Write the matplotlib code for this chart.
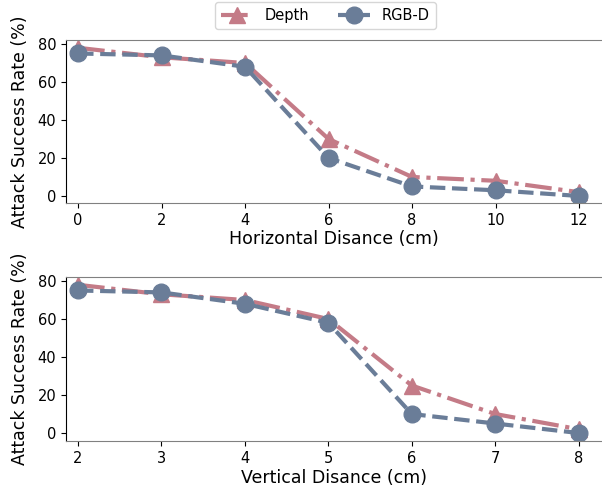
import matplotlib
matplotlib.use('Agg')
import matplotlib.pyplot as plt

# horizontal distance experiment
h_dist = [0, 2, 4, 6, 8, 10, 12]
h_depth = [78, 73, 70, 30, 10, 8, 2]
h_rgbd = [75, 74, 68, 20, 5, 3, 0]

# vertical distance experiment
v_dist = [2, 3, 4, 5, 6, 7, 8]
v_depth = [78, 73, 70, 60, 25, 10, 2]
v_rgbd = [75, 74, 68, 58, 10, 5, 0]

depth_color = '#c47b87'
rgbd_color = '#6a7d98'

fig = plt.figure(figsize=(6.02, 4.86), dpi=100)
ax1 = fig.add_axes([66 / 602, 1 - 203 / 486, 1 - 66 / 602, 163 / 486])
ax2 = fig.add_axes([66 / 602, 1 - 441 / 486, 1 - 66 / 602, 164 / 486])


def draw(ax, x, depth, rgbd, xlabel):
    ax.plot(x, depth, color=depth_color, linestyle='-.', linewidth=3,
            marker='^', markersize=12, label='Depth')
    ax.plot(x, rgbd, color=rgbd_color, linestyle='--', linewidth=3,
            marker='o', markersize=12, label='RGB-D')
    ax.set_xlabel(xlabel, fontsize=12.5, labelpad=2)
    ax.set_ylabel('Attack Success Rate (%)', fontsize=12.5, labelpad=6)
    ax.set_yticks([0, 20, 40, 60, 80])
    ax.tick_params(labelsize=10.5)
    ax.spines['right'].set_visible(False)
    ax.spines['top'].set_color('#808080')
    ax.spines['bottom'].set_color('#808080')


draw(ax1, h_dist, h_depth, h_rgbd, 'Horizontal Disance (cm)')
ax1.set_xticks(h_dist)
ax1.set_xlim(-0.29, 12.55)
ax1.set_ylim(-3.7, 82.1)

draw(ax2, v_dist, v_depth, v_rgbd, 'Vertical Disance (cm)')
ax2.set_xticks(v_dist)
ax2.set_xlim(2 - 0.144, 8.28)
ax2.set_ylim(-4.2, 82.1)

ax1.legend(loc='lower center', bbox_to_anchor=(0.484, 1 + 11 / 163), ncol=2,
           fontsize=10.5, handlelength=2.2, columnspacing=2.0,
           borderaxespad=0.0)

fig.savefig('out.png', dpi=100)
